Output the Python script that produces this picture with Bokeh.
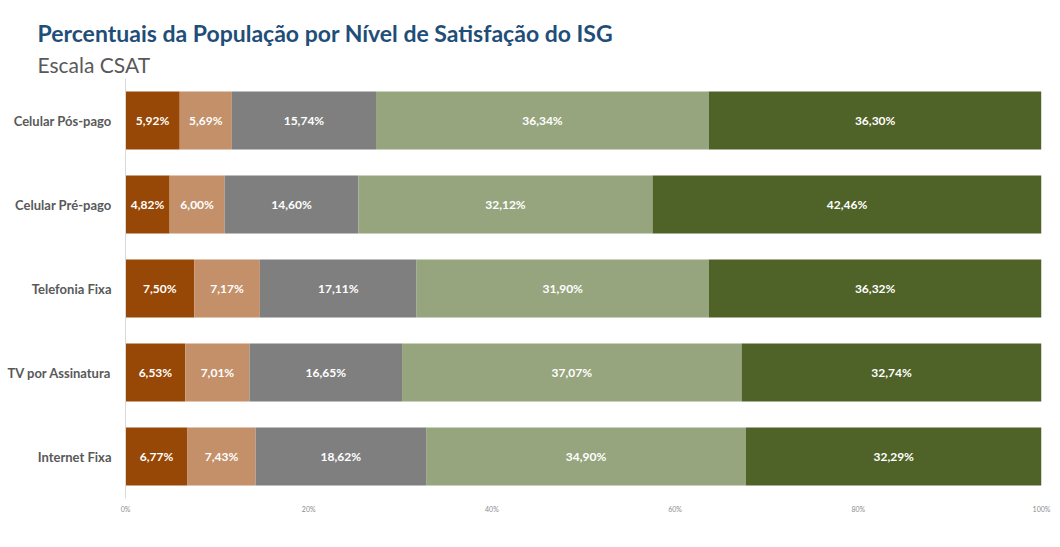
from bokeh.plotting import figure
from bokeh.models import (FactorRange, Range1d, Title, Legend, LegendItem,
                          ColumnDataSource, PrintfTickFormatter, FixedTicker)
from bokeh.core.properties import value
from bokeh.embed import file_html
from bokeh.resources import INLINE

categories = ["Celular Pós-pago", "Celular Pré-pago", "Telefonia Fixa",
              "TV por Assinatura", "Internet Fixa"]
muito_insatisfeito = [5.92, 4.82, 7.50, 6.53, 6.77]
insatisfeito = [5.69, 6.00, 7.17, 7.01, 7.43]
indiferente = [15.74, 14.60, 17.11, 16.65, 18.62]
satisfeito = [36.34, 32.12, 31.90, 37.07, 34.90]
muito_satisfeito = [36.30, 42.46, 36.32, 32.74, 32.29]
series_names = ["Muito Insatisfeito (ISG < 3)", "Insatisfeito (3 <= ISG < 5)",
                "Indiferente (5 <= ISG < 7)", "Satisfeito (7 <= ISG < 9)",
                "Muito Satisfeito (9 <= ISG <= 10)"]
colors = ["#974806", "#C39069", "#7F7F7F", "#96A57E", "#4F6228"]
x_ticks = [0, 20, 40, 60, 80, 100]

series = [muito_insatisfeito, insatisfeito, indiferente, satisfeito, muito_satisfeito]
keys = ["s0", "s1", "s2", "s3", "s4"]

data = {"cat": categories}
for k, s in zip(keys, series):
    data[k] = s
source = ColumnDataSource(data)

FONT = "Lato"

p = figure(frame_width=916, frame_height=420, output_backend="svg", toolbar_location=None,
           y_range=FactorRange(factors=categories[::-1], range_padding=0),
           x_range=Range1d(0, 100),
           min_border_left=125, min_border_right=11, min_border_top=78,
           min_border_bottom=0)
p.outline_line_color = None
p.background_fill_color = "white"

renderers = p.hbar_stack(keys, y="cat", height=0.69, color=colors, source=source,
                         line_color=None)

# value labels
lx, ly, lt = [], [], []
for i, c in enumerate(categories):
    left = 0.0
    for s in series:
        v = s[i]
        lx.append(left + v / 2)
        ly.append(c)
        lt.append(("%.2f" % v).replace(".", ",") + "%")
        left += v
lsrc = ColumnDataSource(dict(x=lx, y=ly, t=lt))
p.text(x="x", y="y", text="t", source=lsrc, text_align="center",
       text_baseline="middle", text_color="white", text_font_size="12px",
       text_font_style="bold", text_font=value(FONT))

# axes
p.xaxis.ticker = FixedTicker(ticks=x_ticks)
p.xaxis.formatter = PrintfTickFormatter(format="%d%%")
p.xaxis.axis_line_color = None
p.xaxis.major_tick_line_color = None
p.xaxis.minor_tick_line_color = None
p.xaxis.major_label_text_font_size = "7px"
p.xaxis.major_label_text_color = "#8C8C8C"
p.xaxis.major_label_text_font = FONT
p.xaxis.major_label_standoff = 0

p.yaxis.axis_line_color = "#D9D9D9"
p.yaxis.major_tick_line_color = None
p.yaxis.minor_tick_line_color = None
p.yaxis.major_label_text_font_size = "13px"
p.yaxis.major_label_text_font_style = "bold"
p.yaxis.major_label_text_color = "#595959"
p.yaxis.major_label_text_font = FONT
p.yaxis.major_label_standoff = 8

p.xgrid.grid_line_color = None
p.ygrid.grid_line_color = None

# titles
p.add_layout(Title(text="Escala CSAT", align="left", offset=-88,
                   text_font_size="21px", text_font_style="normal",
                   text_color="#595959", text_font=FONT, standoff=3), "above")
p.add_layout(Title(text="Percentuais da População por Nível de Satisfação do ISG",
                   align="left", offset=-88, text_font_size="23px",
                   text_font_style="bold", text_color="#1F4E79", text_font=FONT,
                   standoff=4), "above")

legend = Legend(items=[LegendItem(label=n, renderers=[r]) for n, r in zip(series_names, renderers)],
                orientation="horizontal", location="center",
                label_text_font_size="13px", label_text_color="#404040",
                label_text_font=FONT, glyph_width=9, glyph_height=9,
                label_standoff=5, spacing=23, padding=0, margin=6,
                border_line_color=None, background_fill_alpha=0)
p.add_layout(legend, "below")

open("out.html", "w").write(file_html(p, INLINE))
